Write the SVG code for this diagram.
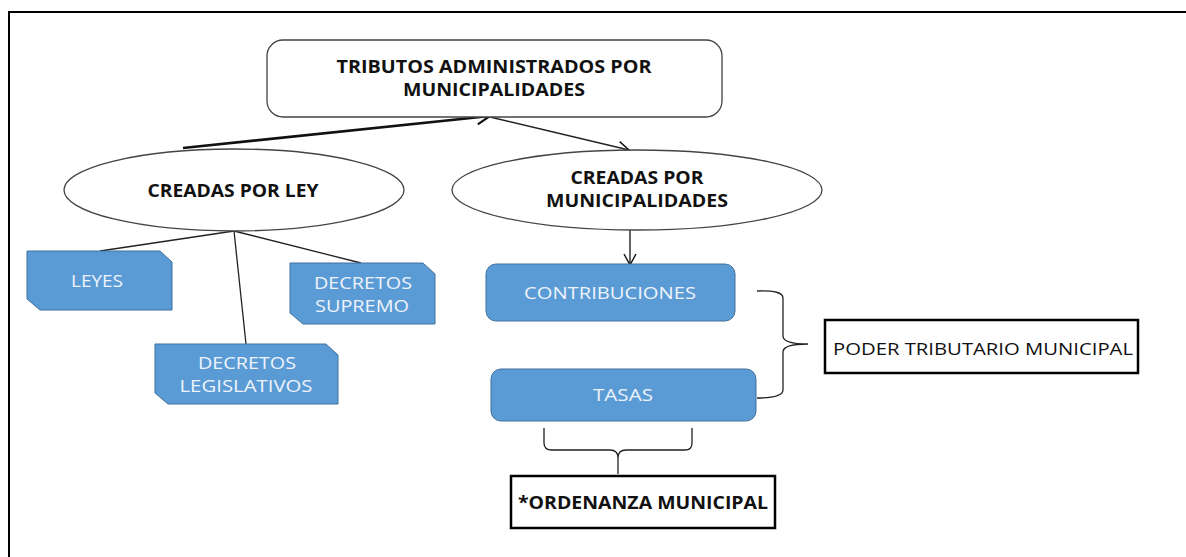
<svg xmlns="http://www.w3.org/2000/svg" width="1186" height="557" viewBox="0 0 1186 557">
<defs>
<style>
.frame{fill:none;stroke:#000;stroke-width:2}
.node{fill:#fff;stroke:#444;stroke-width:1.3}
.blue{fill:#5b9bd5;stroke:#41719c;stroke-width:1}
.box{fill:#fff;stroke:#000;stroke-width:2.5}
.line{fill:none;stroke:#222;stroke-width:1.3}
.bt{font-family:"Open Sans","Liberation Sans",sans-serif;font-weight:bold;font-size:17.5px;fill:#111;text-anchor:middle}
.wt{font-family:"Open Sans","Liberation Sans",sans-serif;font-size:17px;fill:#eef3fb;text-anchor:middle}
.pt{font-family:"Open Sans","Liberation Sans",sans-serif;font-size:17px;fill:#111;text-anchor:middle}
</style>
<marker id="ah" markerWidth="14" markerHeight="14" refX="12" refY="7" orient="auto" markerUnits="userSpaceOnUse">
<path d="M1,1 L12,7 L1,13" fill="none" stroke="#111" stroke-width="1.4"/>
</marker>
<marker id="ahb" markerWidth="16" markerHeight="16" refX="14" refY="8" orient="auto" markerUnits="userSpaceOnUse">
<path d="M1,1 L14,8 L1,15" fill="none" stroke="#111" stroke-width="2.2"/>
</marker>
</defs>
<rect width="1186" height="557" fill="#fff"/>
<path class="frame" d="M9,557 V12 H1186"/>

<g id="connectors">
<line x1="183" y1="148" x2="490" y2="116" stroke="#111" stroke-width="2.6" marker-end="url(#ahb)"/>
<line x1="490" y1="117" x2="629" y2="150" stroke="#222" stroke-width="1.4" marker-end="url(#ah)"/>
<line class="line" x1="234" y1="231" x2="100" y2="251"/>
<line class="line" x1="234" y1="231" x2="361" y2="263"/>
<line class="line" x1="234" y1="231" x2="246" y2="344"/>
<line x1="630" y1="230" x2="630" y2="265" stroke="#222" stroke-width="1.4" marker-end="url(#ah)"/>
<path class="line" d="M757,291 Q783,290 783,298 V336 Q783,344 808,344 Q783,344 783,352 V390 Q783,398 757,398"/>
<path class="line" d="M544,428 V443 Q544,450 552,450 H610 Q618,450 618,458 V474 M618,458 Q618,450 626,450 H685 Q692,450 692,443 V428"/>
</g>

<g id="n-tributos">
<rect class="node" x="267" y="40" width="455" height="77" rx="16"/>
<text class="bt" x="494" y="73" textLength="315" lengthAdjust="spacingAndGlyphs">TRIBUTOS ADMINISTRADOS POR</text>
<text class="bt" x="494" y="96" textLength="182" lengthAdjust="spacingAndGlyphs">MUNICIPALIDADES</text>
</g>

<g id="n-ley">
<ellipse class="node" cx="234" cy="190" rx="170" ry="41"/>
<text class="bt" x="233" y="197" textLength="171" lengthAdjust="spacingAndGlyphs">CREADAS POR LEY</text>
</g>

<g id="n-muni">
<ellipse class="node" cx="637" cy="190" rx="185" ry="40"/>
<text class="bt" x="637" y="184" textLength="133" lengthAdjust="spacingAndGlyphs">CREADAS POR</text>
<text class="bt" x="637" y="207" textLength="182" lengthAdjust="spacingAndGlyphs">MUNICIPALIDADES</text>
</g>

<g id="n-leyes">
<path class="blue" d="M27,251 H160 L172,262 V310 H40 L27,299 Z"/>
<text class="wt" x="97" y="287" textLength="52" lengthAdjust="spacingAndGlyphs">LEYES</text>
</g>

<g id="n-supremo">
<path class="blue" d="M290,263 H423 L435,274 V324 H303 L290,313 Z"/>
<text class="wt" x="363" y="289" textLength="98" lengthAdjust="spacingAndGlyphs">DECRETOS</text>
<text class="wt" x="362" y="312" textLength="94" lengthAdjust="spacingAndGlyphs">SUPREMO</text>
</g>

<g id="n-legislativos">
<path class="blue" d="M155,344 H326 L338,355 V404 H168 L155,393 Z"/>
<text class="wt" x="247" y="369" textLength="98" lengthAdjust="spacingAndGlyphs">DECRETOS</text>
<text class="wt" x="246" y="392" textLength="133" lengthAdjust="spacingAndGlyphs">LEGISLATIVOS</text>
</g>

<g id="n-contribuciones">
<rect class="blue" x="486" y="264" width="249" height="57" rx="10"/>
<text class="wt" x="610" y="299" textLength="172" lengthAdjust="spacingAndGlyphs">CONTRIBUCIONES</text>
</g>

<g id="n-tasas">
<rect class="blue" x="491" y="369" width="265" height="52" rx="10"/>
<text class="wt" x="623" y="401" textLength="60" lengthAdjust="spacingAndGlyphs">TASAS</text>
</g>

<g id="n-poder">
<rect class="box" x="825" y="320" width="313" height="53"/>
<text class="pt" x="983" y="355" textLength="300" lengthAdjust="spacingAndGlyphs">PODER TRIBUTARIO MUNICIPAL</text>
</g>

<g id="n-ordenanza">
<rect class="box" x="511" y="476" width="264" height="52"/>
<text class="bt" x="643" y="509" textLength="250" lengthAdjust="spacingAndGlyphs">*ORDENANZA MUNICIPAL</text>
</g>
</svg>
